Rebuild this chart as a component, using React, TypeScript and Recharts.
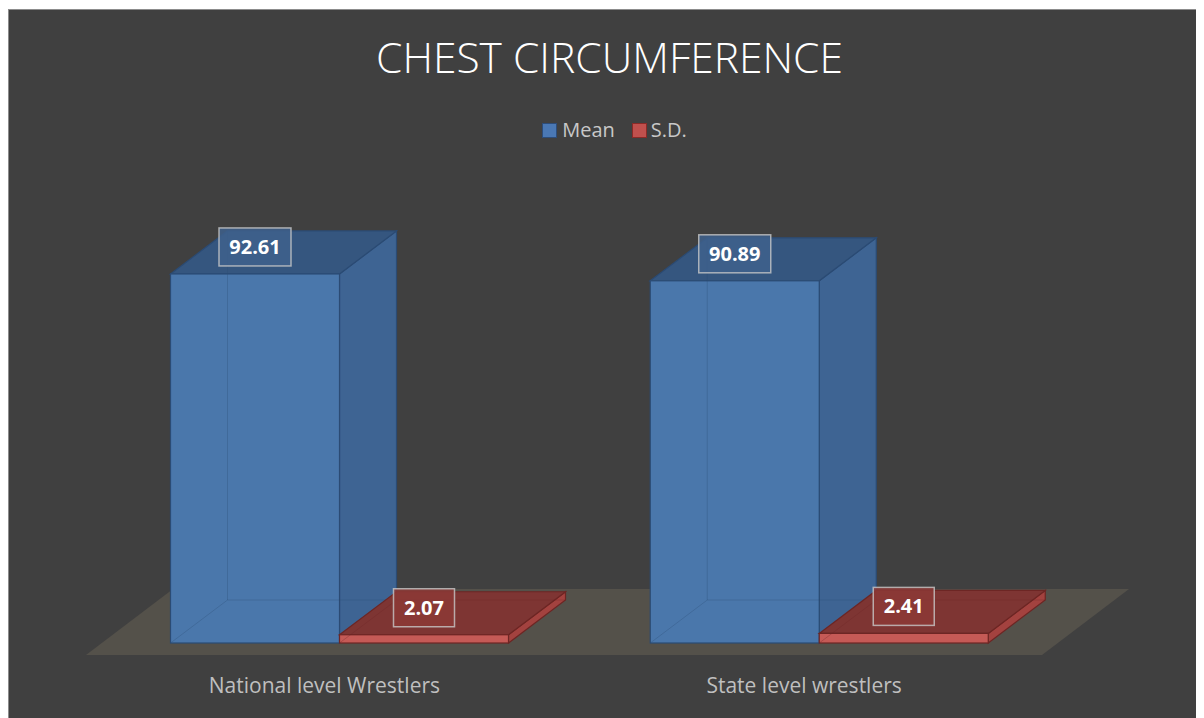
import React from 'react';
import { BarChart, Bar, XAxis, YAxis, Legend, ReferenceArea } from 'recharts';

const groups = ['National level Wrestlers', 'State level wrestlers'];
const meanValues = [92.61, 90.89];
const sdValues = [2.07, 2.41];

const data = groups.map((g, i) => ({ group: g, mean: meanValues[i], sd: sdValues[i] }));

const FONT = '"Open Sans", "Noto Sans", sans-serif';
const W = 1195;
const H = 708;
// 3d depth of a bar
const DX = 57;
const DY = -43;

const palette = {
  mean: { front: '#4a77ab', top: '#35567f', side: '#3e6493', edge: '#2b4b74', label: 'rgba(62,96,140,0.85)' },
  sd: { front: '#c55a56', top: '#7e3533', side: '#a3423f', edge: '#6d2624', label: 'rgba(140,56,54,0.85)' },
};

const Box3D = (props: any) => {
  const { x, y, width, height, value, colors } = props;
  const x2 = x + width;
  const y2 = y + height;
  const txt = Number(Array.isArray(value) ? value[1] : value).toFixed(2);
  const bw = 17 + txt.length * 11;
  const cx = x + width / 2;
  const cy = y - 27;
  return (
    <g>
      <path d={`M${x2},${y}L${x2 + DX},${y + DY}L${x2 + DX},${y2 + DY}L${x2},${y2}Z`} fill={colors.side} stroke={colors.edge} strokeWidth={1.2} />
      <path d={`M${x},${y}L${x + DX},${y + DY}L${x2 + DX},${y + DY}L${x2},${y}Z`} fill={colors.top} stroke={colors.edge} strokeWidth={1.2} />
      <rect x={x} y={y} width={width} height={height} fill={colors.front} stroke={colors.edge} strokeWidth={1.2} />
      {/* hidden edges seen through the translucent faces */}
      <g stroke={colors.edge} strokeOpacity={0.3} strokeWidth={1}>
        <line x1={x} y1={y2} x2={x + DX} y2={y2 + DY} />
        <line x1={x + DX} y1={y2 + DY} x2={x + DX} y2={y + DY} />
        <line x1={x + DX} y1={y2 + DY} x2={x2 + DX} y2={y2 + DY} />
      </g>
      <rect x={cx - bw / 2} y={cy - 19} width={bw} height={38} fill={colors.label} stroke="#c8c8c8" strokeOpacity={0.8} strokeWidth={1.5} />
      <text x={cx} y={cy + 7} textAnchor="middle" fill="#ffffff" fontFamily={FONT} fontWeight={700} fontSize={20}>
        {txt}
      </text>
    </g>
  );
};

const Floor = (props: any) => {
  const { x, y, width, height } = props;
  const left = x;
  const right = x + width;
  const bottom = y + height;
  const pts = [
    [left - 13.5, bottom + 12],
    [right - 17, bottom + 12],
    [right + 70, bottom - 54],
    [left + 73.5, bottom - 54],
  ];
  return <polygon points={pts.map((p) => p.join(',')).join(' ')} fill="#54514a" />;
};

const GroupTick = (props: any) => {
  const { x, y, payload } = props;
  return (
    <text x={x - 15} y={y + 42} textAnchor="middle" fill="#bfbfbf" fontFamily={FONT} fontSize={21}>
      {payload.value}
    </text>
  );
};

const LegendContent = () => (
  <div style={{ display: 'flex', justifyContent: 'center', paddingLeft: 16, fontFamily: FONT, fontSize: 20, color: '#c8c8c8', lineHeight: '26px' }}>
    <span style={{ display: 'flex', alignItems: 'center', marginRight: 17 }}>
      <span style={{ width: 13, height: 13, background: '#4a78b4', border: '1.5px solid #2d4d7a', marginRight: 5 }} />
      Mean
    </span>
    <span style={{ display: 'flex', alignItems: 'center' }}>
      <span style={{ width: 13, height: 13, background: '#c0504d', border: '1.5px solid #8b2a27', marginRight: 4 }} />
      S.D.
    </span>
  </div>
);

export default function App() {
  return (
    <div style={{ position: 'relative', top: 1, width: W, height: H, background: '#404040', border: '1px solid #8c8c8c' }}>
      <div style={{ position: 'absolute', top: 17, left: 0, width: W, paddingLeft: 6, boxSizing: 'border-box', textAlign: 'center', color: '#ffffff', fontFamily: FONT, fontWeight: 300, fontSize: 42.5, lineHeight: '60px' }}>
        CHEST CIRCUMFERENCE
      </div>
      <BarChart width={W} height={H} data={data} margin={{ top: 234.5, right: 145, bottom: 45, left: 90.5 }} barCategoryGap="14.8%" barGap={0}>
        <ReferenceArea y1={0} y2={1} ifOverflow="visible" shape={<Floor />} />
        <XAxis dataKey="group" axisLine={false} tickLine={false} tick={<GroupTick />} interval={0} />
        <YAxis hide domain={[0, 100]} />
        <Legend layout="horizontal" verticalAlign="middle" content={<LegendContent />} wrapperStyle={{ top: 107, left: 0, width: W }} />
        <Bar dataKey="mean" name="Mean" isAnimationActive={false} shape={(p: any) => <Box3D {...p} colors={palette.mean} />} />
        <Bar dataKey="sd" name="S.D." isAnimationActive={false} shape={(p: any) => <Box3D {...p} colors={palette.sd} />} />
      </BarChart>
    </div>
  );
}
